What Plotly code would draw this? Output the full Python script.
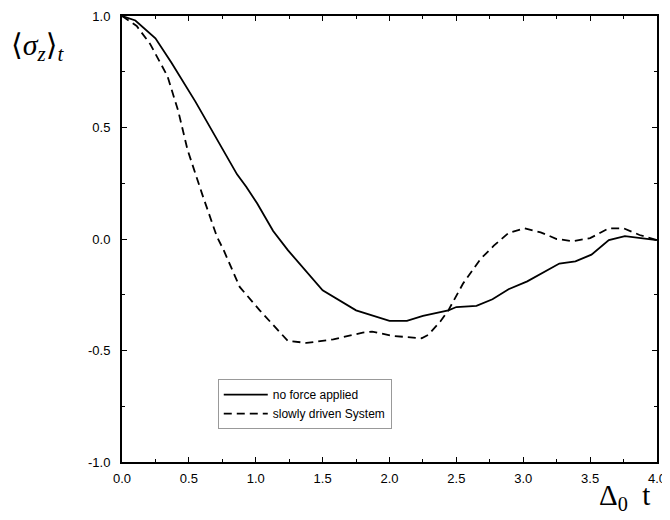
import plotly.graph_objects as go

# Data
t_solid = [0.0, 0.1, 0.25, 0.37, 0.55, 0.73, 0.86, 0.93, 1.01, 1.13, 1.24, 1.5, 1.75,
           2.0, 2.13, 2.25, 2.44, 2.5, 2.65, 2.77, 2.89, 3.03, 3.27, 3.39, 3.51,
           3.64, 3.76, 4.0]
v_solid = [1.0, 0.98, 0.9, 0.79, 0.615, 0.43, 0.29, 0.233, 0.16, 0.036, -0.05, -0.23, -0.32,
           -0.367, -0.367, -0.345, -0.32, -0.305, -0.30, -0.27, -0.225, -0.19, -0.11, -0.10, -0.07,
           -0.005, 0.013, -0.005]

t_dash = [0.0, 0.11, 0.21, 0.34, 0.42, 0.49, 0.6, 0.71, 0.76, 0.88, 1.03, 1.24, 1.38,
          1.58, 1.8, 1.87, 2.03, 2.24, 2.29, 2.38, 2.44, 2.55, 2.68, 2.78, 2.89, 3.01,
          3.13, 3.25, 3.37, 3.5, 3.64, 3.75, 3.87, 4.0]
v_dash = [1.0, 0.955, 0.875, 0.73, 0.575, 0.40, 0.2, 0.01, -0.05, -0.215, -0.32, -0.457, -0.466,
          -0.45, -0.42, -0.415, -0.435, -0.445, -0.43, -0.37, -0.32, -0.20, -0.09, -0.03, 0.027, 0.048,
          0.03, 0.0, -0.01, 0.004, 0.048, 0.048, 0.018, -0.005]

legend_names = ["no force applied", "slowly driven System"]
x_tickvals = [0.0, 0.5, 1.0, 1.5, 2.0, 2.5, 3.0, 3.5, 4.0]
x_ticktext = ["0.0", "0.5", "1.0", "1.5", "2.0", "2.5", "3.0", "3.5", "4.0"]
y_tickvals = [1.0, 0.5, 0.0, -0.5, -1.0]
y_ticktext = ["1.0", "0.5", "0.0", "-0.5", "-1.0"]

fig = go.Figure()
fig.add_trace(go.Scatter(x=t_solid, y=v_solid, mode="lines", name=legend_names[0],
                         line=dict(color="black", width=1.8)))
fig.add_trace(go.Scatter(x=t_dash, y=v_dash, mode="lines", name=legend_names[1],
                         line=dict(color="black", width=1.8, dash="8px,5px")))

axis_common = dict(showgrid=False, zeroline=False, showline=True, linecolor="black", linewidth=2,
                   mirror="allticks", ticks="inside", ticklen=5, tickwidth=1.2, tickcolor="black",
                   automargin=False, ticklabeloverflow="allow",
                   tickfont=dict(family="Liberation Sans, Arial, sans-serif", size=13, color="black"),
                   minor=dict(ticks="inside", ticklen=3, tickwidth=1, tickcolor="black", dtick=0.25))

fig.update_xaxes(range=[0, 4], tickvals=x_tickvals, ticktext=x_ticktext,
                 ticklabelstandoff=3, **axis_common)
fig.update_yaxes(range=[-1, 1], tickvals=y_tickvals, ticktext=y_ticktext,
                 ticklabelstandoff=7, **axis_common)

fig.update_layout(
    width=662, height=512,
    margin=dict(l=114, r=13, t=8, b=58),
    paper_bgcolor="white", plot_bgcolor="white",
    showlegend=True,
    legend=dict(x=0.179, y=0.186, xanchor="left", yanchor="top",
                bordercolor="#999999", borderwidth=1, bgcolor="white",
                font=dict(family="Liberation Sans, Arial, sans-serif", size=12, color="black"),
                tracegroupgap=0, itemwidth=44),
    annotations=[
        dict(text="⟨<i>σ</i><sub><i>z</i></sub>⟩<sub><i>t</i></sub>", xref="paper", yref="paper",
             x=-0.211, y=0.93, xanchor="left", yanchor="middle", showarrow=False,
             font=dict(family="Liberation Serif, DejaVu Serif, serif", size=30, color="black")),
        dict(text="Δ<sub>0</sub>  t", xref="paper", yref="paper",
             x=0.99, y=-0.078, xanchor="right", yanchor="middle", showarrow=False,
             font=dict(family="Liberation Serif, DejaVu Serif, serif", size=29, color="black")),
    ],
)

fig.write_html("out.html")
